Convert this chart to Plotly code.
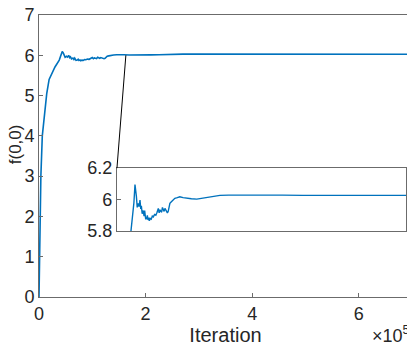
import plotly.graph_objects as go

# convergence curve f(0,0) vs iteration
iteration = [0, 1500, 3500, 6200, 11000, 14500, 19000, 24000, 30000, 38000, 41000,
             43600, 45500, 47000, 49000, 51600, 53500, 55700, 57500, 59000, 61000,
             63700, 65500, 67000, 69500, 71900, 73500, 75000, 77000, 78300, 80500,
             83000, 85500, 88000, 91000, 94000, 97000, 100000, 102000, 104000,
             106000, 108000, 110000, 112000, 114000, 116000, 118000, 120000, 122000,
             124000, 126000, 128000, 131000, 134000, 137000, 140000, 146000, 152000,
             160000, 169000, 180000, 193000, 210000, 225000, 237000, 249000, 270000,
             298000, 350000, 400000, 450000, 500000, 550000, 600000, 650000, 700000]
f00 = [0, 1.8, 3.0, 4.0, 4.7, 5.05, 5.4, 5.55, 5.71, 5.88, 5.98,
       6.096, 6.06, 6.02, 5.95, 5.976, 5.955, 5.997, 5.94, 5.96, 5.91,
       5.93, 5.895, 5.93, 5.875, 5.88, 5.9, 5.87, 5.885, 5.865, 5.88,
       5.875, 5.895, 5.89, 5.905, 5.9, 5.92, 5.944, 5.915, 5.935,
       5.925, 5.92, 5.95, 5.935, 5.925, 5.944, 5.93, 5.92, 5.915,
       5.925, 5.965, 5.976, 5.985, 5.995, 6.005, 6.008, 6.012, 6.018,
       6.012, 6.008, 6.005, 6.003, 6.01, 6.014, 6.02, 6.027, 6.028,
       6.029, 6.028, 6.028, 6.027, 6.028, 6.027, 6.027, 6.027, 6.027]

x_ticks = [0, 200000, 400000, 600000]
x_tick_labels = ["0", "2", "4", "6"]
y_ticks = [0, 1, 2, 3, 4, 5, 6, 7]
inset_y_ticks = [5.8, 6.0, 6.2]
inset_y_labels = ["5.8", "6", "6.2"]

blue = "#0072BD"
axcol = "#6b6b6b"
font = "Liberation Sans, Arial, sans-serif"

X_RANGE = [0, 700000]
Y_RANGE = [0, 7]
INSET_X = [0.209, 0.985]
INSET_Y = [0.234, 0.457]
L, R, T, B = 31, 3, 7, 49
W, H = 407, 338

fig = go.Figure()
fig.add_trace(go.Scatter(x=iteration, y=f00, mode="lines",
                         line=dict(color=blue, width=1.6), showlegend=False))
fig.add_trace(go.Scatter(x=iteration, y=f00, mode="lines", xaxis="x2", yaxis="y2",
                         line=dict(color=blue, width=1.4), showlegend=False))


def axis(**kw):
    d = dict(showgrid=False, zeroline=False, showline=True, linecolor=axcol,
             linewidth=1, mirror=True, ticks="inside", ticklen=4, automargin=False,
             ticklabeloverflow="allow",
             tickcolor=axcol, tickfont=dict(size=18, color="#262626"))
    d.update(kw)
    return d


# page body adds ~8px offset, so the figure is a bit smaller than the window
fig.update_layout(
    width=W, height=H,
    margin=dict(l=L, r=R, t=T, b=B),
    paper_bgcolor="white", plot_bgcolor="white",
    font=dict(family=font, color="#262626"),
    xaxis=axis(range=X_RANGE, tickvals=x_ticks, ticktext=x_tick_labels,
               title=dict(text="Iteration", font=dict(size=20), standoff=1)),
    yaxis=axis(range=Y_RANGE, tickvals=y_ticks),
    xaxis2=axis(range=X_RANGE, domain=INSET_X, anchor="y2", showticklabels=False,
                ticks=""),
    yaxis2=axis(range=[5.8, 6.2], domain=INSET_Y, anchor="x2",
                tickvals=inset_y_ticks, ticktext=inset_y_labels),
)

# y title as a rotated annotation pinned to the left edge
plot_w = W - L - R
plot_h = H - T - B
fig.add_annotation(text="f(0,0)", textangle=-90, xref="paper", yref="paper",
                   x=-L / plot_w, y=0.54, xanchor="left", yanchor="middle",
                   xshift=-4, showarrow=False, font=dict(size=17, color="#262626"))

# connector line from the main curve to the inset corner
cx = X_RANGE[0] + (X_RANGE[1] - X_RANGE[0]) * INSET_X[0]
cy = Y_RANGE[0] + (Y_RANGE[1] - Y_RANGE[0]) * INSET_Y[1]
fig.add_shape(type="line", xref="x", yref="y", x0=163000, y0=6.0, x1=cx, y1=cy,
              line=dict(color="black", width=1))

fig.add_annotation(text="\u00d710<sup>5</sup>", xref="paper", yref="paper",
                   x=1.0, y=-(340 - (H - B)) / plot_h, xanchor="right",
                   yanchor="bottom", showarrow=False,
                   font=dict(size=18, color="#262626"))

fig.write_html("out.html")
